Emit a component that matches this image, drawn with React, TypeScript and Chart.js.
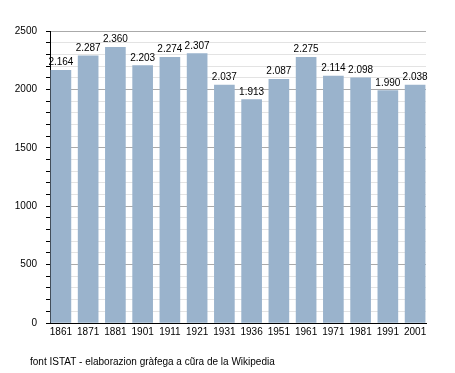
import React, { useEffect, useRef } from "react";
import { Chart, registerables } from "chart.js";

Chart.register(...registerables);

const years = ["1861", "1871", "1881", "1901", "1911", "1921", "1931", "1936", "1951", "1961", "1971", "1981", "1991", "2001"];
const population = [2164, 2287, 2360, 2203, 2274, 2307, 2037, 1913, 2087, 2275, 2114, 2098, 1990, 2038];
const footerText = "font ISTAT - elaborazion gràfega a cũra de la Wikipedia";

const FONT = "'Liberation Sans', Arial, sans-serif";

function fmt(v: number): string {
  const s = String(v);
  return s.length > 3 ? s.slice(0, s.length - 3) + "." + s.slice(s.length - 3) : s;
}

const valueLabels = {
  id: "valueLabels",
  afterDatasetsDraw(chart: any) {
    const ctx = chart.ctx;
    const meta = chart.getDatasetMeta(0);
    ctx.save();
    ctx.font = `10px ${FONT}`;
    ctx.fillStyle = "#000";
    ctx.textAlign = "center";
    ctx.textBaseline = "alphabetic";
    meta.data.forEach((el: any, i: number) => {
      ctx.fillText(fmt(population[i]), el.x, el.y - 5);
    });
    ctx.restore();
  },
};

const footer = {
  id: "footer",
  afterDraw(chart: any) {
    const ctx = chart.ctx;
    ctx.save();
    ctx.font = `10px ${FONT}`;
    ctx.fillStyle = "#000";
    ctx.textAlign = "left";
    ctx.textBaseline = "alphabetic";
    ctx.fillText(footerText, 30, 365);
    ctx.restore();
  },
};

export default function App() {
  const ref = useRef<HTMLCanvasElement>(null);
  useEffect(() => {
    if (!ref.current) return;
    const chart = new Chart(ref.current, {
      type: "bar",
      data: {
        datasets: [
          {
            data: population.map((v, i) => ({ x: i, y: v })),
            backgroundColor: "#9ab3cc",
            borderWidth: 0,
            barThickness: 20,
          },
        ],
      },
      options: {
        animation: false,
        responsive: false,
        layout: { padding: { left: 0, right: 29, top: 31, bottom: 0 } },
        plugins: {
          legend: { display: false },
          tooltip: { enabled: false },
        },
        scales: {
          x: {
            type: "linear",
            min: -0.4,
            max: 13.4,
            offset: false,
            grid: { display: false, drawTicks: false, offset: false },
            border: { display: true, color: "#000", width: 1 },
            afterBuildTicks: (scale: any) => {
              scale.ticks = years.map((_, i) => ({ value: i }));
            },
            afterFit: (scale: any) => {
              scale.height = 50;
            },
            ticks: {
              autoSkip: false,
              maxRotation: 0,
              padding: 3,
              color: "#000",
              font: { family: FONT, size: 10 },
              callback: (v: any) => years[v as number] ?? "",
            },
          },
          y: {
            min: 0,
            max: 2500,
            grid: {
              color: (c: any) => {
                const v = c.tick?.value ?? 0;
                if (v === 0) return "#000";
                return v % 500 === 0 ? "#aaaaaa" : "#e3e3e3";
              },
              tickColor: "#000",
              tickLength: 4,
              drawTicks: true,
            },
            border: { display: true, color: "#000", width: 1 },
            afterFit: (scale: any) => {
              scale.width = 50;
            },
            ticks: {
              stepSize: 100,
              autoSkip: false,
              padding: 9,
              color: "#000",
              font: { family: FONT, size: 10 },
              callback: (v: any) => ((v as number) % 500 === 0 ? String(v) : ""),
            },
          },
        },
      },
      plugins: [valueLabels, footer],
    } as any);
    return () => chart.destroy();
  }, []);
  return (
    <div style={{ position: "absolute", left: 0, top: 0, width: 455, height: 373, background: "#fff" }}>
      <canvas ref={ref} width={455} height={373} />
    </div>
  );
}
